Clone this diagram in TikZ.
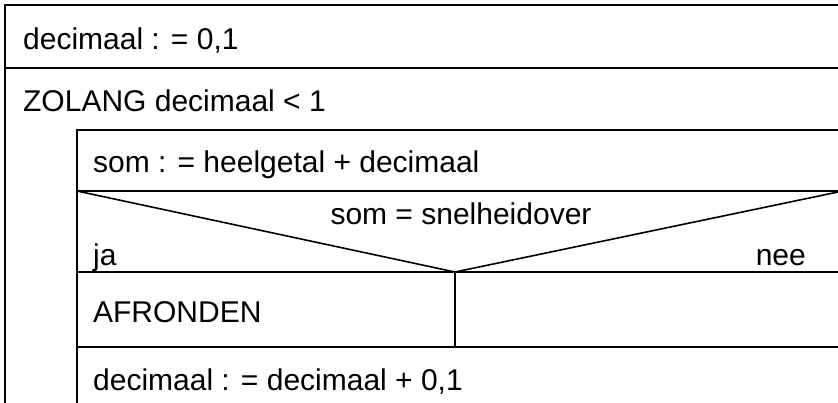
\documentclass[tikz,border=0pt]{standalone}
\usepackage{fontspec}
\setmainfont{Liberation Sans}
\begin{document}
\begin{tikzpicture}[x=1pt, y=-1pt, line width=2.3pt,
  lbl/.style={anchor=base west, inner sep=0pt, font=\fontsize{30}{36}\selectfont},
  diag/.style={line width=1.6pt}]
\useasboundingbox (0,0) rectangle (838,403);
% outer structure
\draw (838,5) -- (5,5) -- (5,403);
\draw (5,68) -- (838,68);
% loop body
\draw (77,403) -- (77,130) -- (838,130);
\draw (77,191) -- (838,191);
\draw (77,272) -- (838,272);
\draw (77,347) -- (838,347);
% decision
\coordinate (tip) at (455,272);
\draw[diag] (77,191) -- (tip) -- (838,192);
\draw (tip) -- (455,347);
% texts
\node[lbl] (init) at (22,50) {decimaal : = 0,1};
\node[lbl] (loop) at (22,112) {ZOLANG decimaal < 1};
\node[lbl] (sum) at (92,173) {som : = heelgetal + decimaal};
\node[lbl, anchor=base] (cond) at (461,225) {som = snelheidover};
\node[lbl] (yes) at (92,266) {ja};
\node[lbl, anchor=base east] (no) at (807,266) {nee};
\node[lbl] (round) at (92,323) {AFRONDEN};
\node[lbl] (inc) at (92,390) {decimaal : = decimaal + 0,1};
\end{tikzpicture}
\end{document}
